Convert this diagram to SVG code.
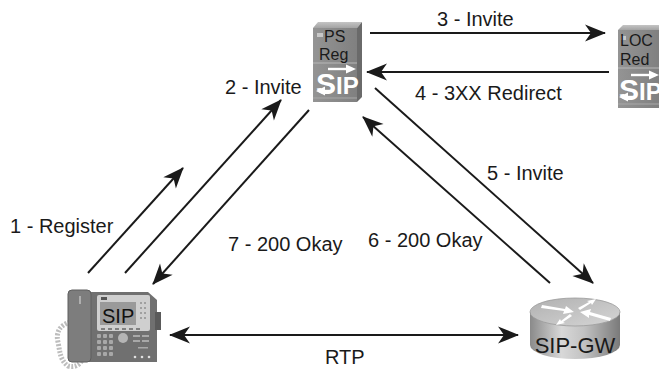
<svg xmlns="http://www.w3.org/2000/svg" width="659" height="369" viewBox="0 0 659 369">
  <style>
    .lbl { font-family: "Liberation Sans", Arial, Helvetica, sans-serif; font-size: 20px; fill: #1a1a1a; }
    .conn { stroke: #1a1a1a; stroke-width: 2; fill: none; }
    .srvtxt { font-family: "Liberation Sans", Arial, sans-serif; font-size: 16px; fill: #1a1a1a; }
    .sip { font-family: "Liberation Sans", Arial, sans-serif; font-weight: bold; fill: #ffffff; }
    .wline { stroke: #ffffff; stroke-width: 2.4; fill: none; }
  </style>
  <defs>
    <marker id="ah" viewBox="-22 -9 24 18" refX="0" refY="0" markerWidth="24" markerHeight="18" orient="auto-start-reverse" markerUnits="userSpaceOnUse">
      <path d="M1,0 L-20,-8.5 L-14,0 L-20,8.5 Z" fill="#1a1a1a"/>
    </marker>
    <linearGradient id="srvFront" x1="0" y1="0" x2="1" y2="0">
      <stop offset="0" stop-color="#949494"/>
      <stop offset="1" stop-color="#808080"/>
    </linearGradient>
    <linearGradient id="srvTop" x1="0" y1="0" x2="0" y2="1">
      <stop offset="0" stop-color="#c4c4c4"/>
      <stop offset="1" stop-color="#a3a3a3"/>
    </linearGradient>
    <linearGradient id="cyl" x1="0" y1="0" x2="1" y2="0">
      <stop offset="0" stop-color="#8a8a8a"/>
      <stop offset="0.35" stop-color="#d8d8d8"/>
      <stop offset="0.6" stop-color="#c2c2c2"/>
      <stop offset="1" stop-color="#7a7a7a"/>
    </linearGradient>
    <linearGradient id="cylTop" x1="0" y1="0" x2="1" y2="1">
      <stop offset="0" stop-color="#b0b0b0"/>
      <stop offset="1" stop-color="#d6d6d6"/>
    </linearGradient>
    <!-- SIP logo: white S and IP with a two-way arrow swoosh -->
    <g id="sipLogo">
      <text class="sip" x="0" y="31" font-size="30">S</text>
      <text class="sip" x="20" y="31" font-size="24">IP</text>
      <path d="M12,6 L33,6" class="wline"/>
      <path d="M40,6 L30,1.5 L30,10.5 Z" fill="#ffffff"/>
      <path d="M14,28 L7,28" class="wline"/>
      <path d="M0,28 L9,23.5 L9,32.5 Z" fill="#ffffff"/>
    </g>
  </defs>

  <rect x="0" y="0" width="659" height="369" fill="#ffffff"/>

  <!-- connectors -->
  <g id="connectors">
    <line class="conn" x1="370" y1="33" x2="605" y2="33" marker-end="url(#ah)"/>
    <line class="conn" x1="609" y1="72" x2="367" y2="72" marker-end="url(#ah)"/>
    <line class="conn" x1="125" y1="273" x2="281" y2="100" marker-end="url(#ah)"/>
    <line class="conn" x1="88" y1="273" x2="183" y2="168" marker-end="url(#ah)"/>
    <line class="conn" x1="309" y1="110" x2="153" y2="284" marker-end="url(#ah)"/>
    <line class="conn" x1="375" y1="88" x2="593" y2="283" marker-end="url(#ah)"/>
    <line class="conn" x1="550" y1="283" x2="363" y2="117" marker-end="url(#ah)"/>
    <line class="conn" x1="170" y1="335" x2="518" y2="335" marker-start="url(#ah)" marker-end="url(#ah)"/>

    <text class="lbl" x="437" y="26">3 - Invite</text>
    <text class="lbl" x="415" y="100">4 - 3XX Redirect</text>
    <text class="lbl" x="225" y="94">2 - Invite</text>
    <text class="lbl" x="10" y="233">1 - Register</text>
    <text class="lbl" x="228" y="251">7 - 200 Okay</text>
    <text class="lbl" x="487" y="180">5 - Invite</text>
    <text class="lbl" x="368" y="247">6 - 200 Okay</text>
    <text class="lbl" x="325" y="364">RTP</text>
  </g>

  <!-- proxy / registrar server -->
  <g id="ps-reg">
    <path d="M313,28 L318,22 L362,22 L357,28 Z" fill="url(#srvTop)"/>
    <path d="M357,28 L362,22 L362,97 L357,102 Z" fill="#6a6a6a"/>
    <rect x="313" y="28" width="44" height="74" fill="url(#srvFront)"/>
    <line x1="313" y1="63" x2="357" y2="63" stroke="#b8b8b8" stroke-width="1.2"/>
    <line x1="313" y1="98" x2="357" y2="98" stroke="#a8a8a8" stroke-width="1"/>
    <rect x="317" y="33" width="6" height="4" fill="#c8c8c8"/>
    <text class="srvtxt" x="324" y="42">PS</text>
    <text class="srvtxt" x="319" y="60">Reg</text>
    <use href="#sipLogo" x="316" y="63"/>
  </g>

  <!-- location / redirect server -->
  <g id="loc-red">
    <path d="M618,30 L623,25 L659,25 L659,30 Z" fill="url(#srvTop)"/>
    <rect x="618" y="30" width="41" height="78" fill="url(#srvFront)"/>
    <line x1="618" y1="68" x2="659" y2="68" stroke="#b8b8b8" stroke-width="1.2"/>
    <line x1="618" y1="104" x2="659" y2="104" stroke="#a8a8a8" stroke-width="1"/>
    <rect x="621" y="36" width="5" height="4" fill="#c8c8c8"/>
    <text class="srvtxt" x="620" y="46" font-size="17">LOC</text>
    <text class="srvtxt" x="620" y="65" font-size="17">Red</text>
    <use href="#sipLogo" x="619" y="69"/>
  </g>

  <!-- IP phone -->
  <g id="phone">
    <!-- coiled cord -->
    <path d="M70,322 C58,326 56,334 58,342 C60,352 60,360 68,366 C76,368 80,364 82,360" fill="none" stroke="#bdbdbd" stroke-width="5" stroke-dasharray="2 1.5"/>
    <!-- base -->
    <path d="M88,292 L148,292 L157,300 L157,362 L75,362 L75,300 Z" fill="#707070"/>
    <rect x="155" y="312" width="6" height="18" fill="#5a5a5a"/>
    <!-- handset -->
    <rect x="68" y="290" width="23" height="72" rx="4" fill="#7d7d7d" stroke="#5e5e5e" stroke-width="1"/>
    <line x1="80" y1="296" x2="80" y2="304" stroke="#d0d0d0" stroke-width="1.2"/>
    <!-- screen bezel -->
    <rect x="97" y="295" width="53" height="36" rx="2" fill="#cfcfcf"/>
    <rect x="101" y="297" width="6" height="3" fill="#555"/>
    <rect x="100" y="302" width="36" height="23" fill="#9a9a9a"/>
    <text x="102" y="323" font-family="'Liberation Sans', Arial, sans-serif" font-size="20" fill="#111">SIP</text>
    <!-- side buttons -->
    <g fill="#909090">
      <circle cx="141" cy="303" r="1"/><circle cx="145" cy="303" r="1"/>
      <circle cx="141" cy="308" r="1"/><circle cx="145" cy="308" r="1"/>
      <circle cx="141" cy="313" r="1"/><circle cx="145" cy="313" r="1"/>
      <circle cx="141" cy="318" r="1"/><circle cx="145" cy="318" r="1"/>
    </g>
    <g stroke="#4a4a4a" stroke-width="1.2">
      <line x1="101" y1="329" x2="105" y2="329"/><line x1="108" y1="329" x2="112" y2="329"/>
      <line x1="115" y1="329" x2="119" y2="329"/><line x1="122" y1="329" x2="126" y2="329"/>
      <line x1="129" y1="329" x2="133" y2="329"/><line x1="136" y1="329" x2="140" y2="329"/>
    </g>
    <!-- keypad -->
    <g fill="#a8a8a8">
      <rect x="97" y="334" width="4" height="4" rx="1"/><rect x="103" y="334" width="4" height="4" rx="1"/><rect x="109" y="334" width="4" height="4" rx="1"/>
      <rect x="97" y="340" width="4" height="4" rx="1"/><rect x="103" y="340" width="4" height="4" rx="1"/><rect x="109" y="340" width="4" height="4" rx="1"/>
      <rect x="97" y="346" width="4" height="4" rx="1"/><rect x="103" y="346" width="4" height="4" rx="1"/><rect x="109" y="346" width="4" height="4" rx="1"/>
      <rect x="97" y="352" width="4" height="4" rx="1"/><rect x="103" y="352" width="4" height="4" rx="1"/><rect x="109" y="352" width="4" height="4" rx="1"/>
    </g>
    <circle cx="123" cy="338" r="5" fill="#b5b5b5"/>
    <g fill="#a8a8a8">
      <rect x="133" y="335" width="7" height="2"/><rect x="142" y="335" width="7" height="2"/>
      <rect x="133" y="340" width="7" height="2"/><rect x="142" y="340" width="7" height="2"/>
      <rect x="138" y="347" width="10" height="1.5"/>
    </g>
    <g fill="#e0e0e0">
      <circle cx="135" cy="357" r="1.3"/><circle cx="142" cy="357" r="1.3"/><circle cx="149" cy="357" r="1.3"/>
    </g>
  </g>

  <!-- SIP gateway router -->
  <g id="sip-gw">
    <path d="M530,312 L530,345 A45,14 0 0 0 620,345 L620,312 Z" fill="url(#cyl)"/>
    <ellipse cx="575" cy="312" rx="45" ry="14" fill="url(#cylTop)" stroke="#9a9a9a" stroke-width="0.8"/>
    <g fill="#ffffff">
      <!-- inbound arrows -->
      <path d="M542,305 L565,309 L566,306 L574,312 L563,314 L564,311 L541,308 Z"/>
      <path d="M610,321 L589,315 L589,318 L580,312 L591,309 L590,312 L611,318 Z"/>
      <!-- outbound arrows -->
      <path d="M578,308 L589,302 L587,301 L596,299 L592,305 L591,303 L580,310 Z"/>
      <path d="M572,316 L563,322 L565,323 L556,325 L560,319 L561,321 L570,314 Z"/>
    </g>
    <text x="575" y="353" text-anchor="middle" font-family="'Liberation Sans', Arial, sans-serif" font-size="22" fill="#1a1a1a">SIP-GW</text>
  </g>
</svg>
